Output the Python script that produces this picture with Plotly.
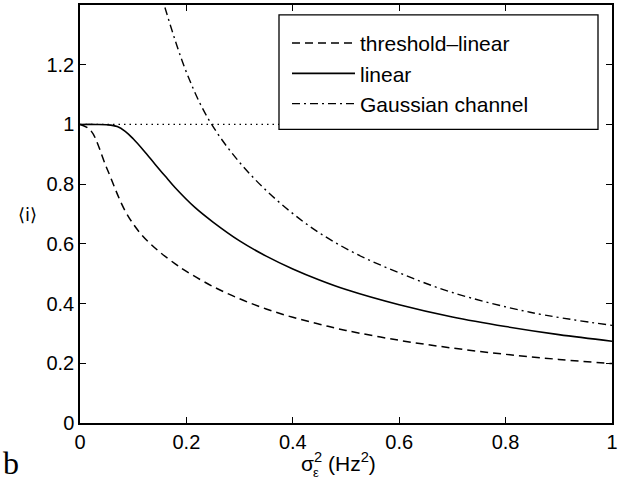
import plotly.graph_objects as go

# ---- data ----
thr_x = [0, 0.02, 0.05, 0.085, 0.115, 0.147, 0.179, 0.2, 0.25, 0.3, 0.35, 0.4, 0.45, 0.5, 0.6, 0.7, 0.8, 0.9, 1.0]
thr_y = [1.0, 0.98, 0.855, 0.71, 0.632, 0.577, 0.533, 0.508, 0.457, 0.416, 0.382, 0.354, 0.331, 0.31, 0.277, 0.251, 0.23, 0.213, 0.199]

lin_x = [0, 0.03, 0.05, 0.07, 0.085, 0.1, 0.12, 0.141, 0.16, 0.179, 0.216, 0.25, 0.3, 0.35, 0.4, 0.45, 0.5, 0.6, 0.7, 0.8, 0.9, 1.0]
lin_y = [1.0, 1.0, 0.999, 0.993, 0.977, 0.952, 0.912, 0.867, 0.827, 0.788, 0.722, 0.673, 0.61, 0.559, 0.516, 0.479, 0.447, 0.396, 0.355, 0.323, 0.296, 0.274]

gau_x = [0.15, 0.2, 0.2475, 0.323, 0.42, 0.5075, 0.6, 0.7, 0.846, 1.0]
gau_y = [1.45, 1.175, 1.0, 0.827, 0.674, 0.577, 0.503, 0.437, 0.371, 0.327]

ref_x = [0, 0.5]
ref_y = [1, 1]

x_ticks = [0, 0.2, 0.4, 0.6, 0.8, 1]
x_ticktext = ["0", "0.2", "0.4", "0.6", "0.8", "1"]
y_ticks = [0, 0.2, 0.4, 0.6, 0.8, 1, 1.2]
y_ticktext = ["0", "0.2", "0.4", "0.6", "0.8", "1", "1.2"]

names = ["threshold\u2013linear", "linear", "Gaussian channel"]

FONT = "Liberation Sans, Arial, Helvetica, sans-serif"

fig = go.Figure()
fig.add_trace(go.Scatter(x=ref_x, y=ref_y, mode="lines", showlegend=False,
                         line=dict(color="black", width=1.2, dash="1.5px,4px")))
fig.add_trace(go.Scatter(x=thr_x, y=thr_y, mode="lines", name=names[0], legendgroup="a",
                         line=dict(color="black", width=1.5, dash="8px,5px", shape="spline")))
fig.add_trace(go.Scatter(x=lin_x, y=lin_y, mode="lines", name=names[1], legendgroup="b",
                         line=dict(color="black", width=1.6, shape="spline")))
fig.add_trace(go.Scatter(x=gau_x, y=gau_y, mode="lines", name=names[2], legendgroup="c",
                         line=dict(color="black", width=1.4, dash="8px,4px,2px,4px", shape="spline")))

W, H = 631, 484
ml, mr, mt, mb = 80, 19, 3, 61
pw, ph = W - ml - mr, H - mt - mb

def px_x(p):
    return (p - ml) / pw

def px_y(p):
    return 1 - (p - mt) / ph

# legend box (white, bordered) drawn above traces
fig.add_shape(type="rect", xref="paper", yref="paper",
              x0=px_x(279), x1=px_x(598), y0=px_y(128), y1=px_y(13),
              line=dict(color="black", width=1.3), fillcolor="white", layer="above")

fig.update_layout(
    width=W, height=H,
    margin=dict(l=ml, r=mr, t=mt, b=mb),
    paper_bgcolor="white", plot_bgcolor="white",
    font=dict(family=FONT, size=20, color="black"),
    showlegend=True,
    legend=dict(x=px_x(287), y=px_y(21), xanchor="left", yanchor="top",
                bgcolor="rgba(0,0,0,0)", borderwidth=0,
                font=dict(family=FONT, size=21, color="black"),
                itemwidth=63, tracegroupgap=0, traceorder="grouped"),
    xaxis=dict(range=[0, 1], tickvals=x_ticks, ticktext=x_ticktext,
               showgrid=False, zeroline=False, showline=True, linecolor="black", linewidth=1.5,
               mirror="ticks", ticks="inside", ticklen=6, tickwidth=1, tickcolor="black",
               tickfont=dict(family=FONT, size=20)),
    yaxis=dict(range=[0, 1.4], tickvals=y_ticks, ticktext=y_ticktext,
               showgrid=False, zeroline=False, showline=True, linecolor="black", linewidth=1.5,
               mirror="ticks", ticks="inside", ticklen=6, tickwidth=1, tickcolor="black",
               tickfont=dict(family=FONT, size=20)),
    annotations=[
        dict(text="\u03c3<sup>2</sup> (Hz<sup>2</sup>)", xref="paper", yref="paper",
             x=px_x(299), y=px_y(462), xanchor="left", yanchor="middle", showarrow=False,
             font=dict(family=FONT, size=21)),
        dict(text="\u03b5", xref="paper", yref="paper",
             x=px_x(316), y=px_y(473), xanchor="center", yanchor="middle", showarrow=False,
             font=dict(family=FONT, size=13)),
        dict(text="\u27e8i\u27e9", xref="paper", yref="paper",
             x=px_x(27), y=px_y(213), xanchor="center", yanchor="middle", showarrow=False,
             font=dict(family="DejaVu Sans, " + FONT, size=18)),
        dict(text="b", xref="paper", yref="paper",
             x=px_x(11), y=px_y(463), xanchor="center", yanchor="middle", showarrow=False,
             font=dict(family="Liberation Serif, DejaVu Serif, serif", size=32)),
    ],
)

fig.write_html("out.html", config={"displayModeBar": False},
               post_script="document.body.style.margin='0px';")
